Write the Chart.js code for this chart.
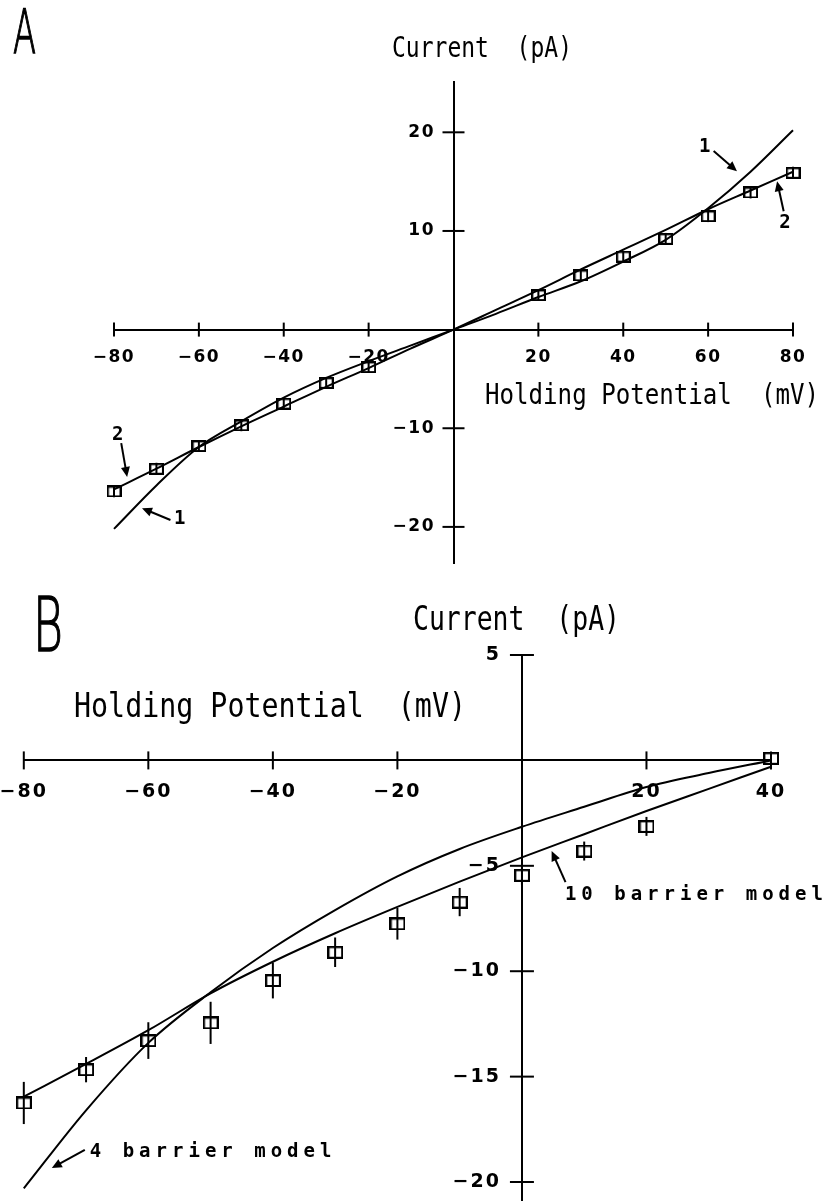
<!DOCTYPE html>
<html><head><meta charset="utf-8">
<script src="https://cdn.jsdelivr.net/npm/chart.js@4.4.1/dist/chart.umd.min.js"></script>
<style>
html,body{margin:0;padding:0;background:#fff;}
#wrap{position:relative;width:831px;height:1201px;overflow:hidden;background:#fff;}
canvas{position:absolute;left:0;top:0;}
</style></head><body>
<div id="wrap"><canvas id="ca" width="831" height="1201"></canvas><canvas id="cb" width="831" height="1201"></canvas></div>
<script>
// ---------- Panel A data ----------
const voltageA = [-80, -70, -60, -50, -40, -30, -20, 20, 30, 40, 50, 60, 70, 80];
const currentA = [-16.4, -14.1, -11.8, -9.7, -7.5, -5.4, -3.8, 3.5, 5.5, 7.4, 9.2, 11.5, 13.9, 15.9];
const errorA = [0.6, 0.6, 0.6, 0.6, 0.6, 0.6, 0.6, 0.6, 0.6, 0.6, 0.6, 0.6, 0.6, 0.6];
const modelVoltageA = [-80, -70, -60, -50, -40, -30, -20, -10, 0, 10, 20, 30, 40, 50, 60, 70, 80];
const model1A = [-20.2, -15.8, -11.9, -9.3, -6.9, -4.9, -3.2, -1.6, 0, 1.6, 3.3, 4.9, 6.9, 9.1, 12.3, 16.0, 20.2];
const model2A = [-16.2, -14.1, -11.9, -9.8, -7.8, -5.8, -3.9, -1.9, 0, 2.0, 4.0, 6.1, 8.1, 10.1, 12.2, 14.1, 16.0];
const xTicksA = [-80, -60, -40, -20, 20, 40, 60, 80];
const yTicksA = [-20, -10, 10, 20];

// ---------- Panel B data ----------
const voltageB = [-80, -70, -60, -50, -40, -30, -20, -10, 0, 10, 20, 40];
const currentB = [-16.25, -14.67, -13.29, -12.45, -10.44, -9.1, -7.75, -6.72, -5.45, -4.3, -3.13, 0.1];
const errorB = [1.0, 0.6, 0.87, 1.0, 0.85, 0.7, 0.75, 0.67, 0.45, 0.45, 0.45, 0.2];
const modelVoltageB = [-80, -70, -60, -50, -40, -30, -20, -10, 0, 10, 20, 30, 40];
const barrier4B = [-20.3, -16.6, -13.4, -11.0, -8.9, -7.1, -5.5, -4.2, -3.15, -2.2, -1.26, -0.6, 0.0];
const barrier10B = [-15.95, -14.4, -12.8, -11.05, -9.55, -8.2, -6.95, -5.75, -4.6, -3.5, -2.4, -1.35, -0.3];
const xTicksB = [-80, -60, -40, -20, 20, 40];
const yTicksB = [-20, -15, -10, -5, 5];

// ---------- annotations (data coordinates) ----------
const notesA = [
  {text: '2', lx: -79.1, ly: -10.65, x1: -78.3, y1: -11.5, x2: -76.9, y2: -14.94},
  {text: '1', lx: -64.5, ly: -19.2, x1: -66.7, y1: -19.3, x2: -73.4, y2: -18.1},
  {text: '1', lx: 59.2, ly: 18.5, x1: 61.3, y1: 18.1, x2: 66.8, y2: 16.05},
  {text: '2', lx: 78.1, ly: 10.85, x1: 77.8, y1: 12.0, x2: 76.25, y2: 15.04}
];
const notesB = [
  {text: '10 barrier model', lx: 6.9, ly: -6.64, x1: 7.0, y1: -5.77, x2: 4.77, y2: -4.3},
  {text: '4 barrier model', lx: -69.4, ly: -18.79, x1: -70.2, y1: -18.47, x2: -75.5, y2: -19.34}
];

const MONO = "'DejaVu Sans Mono', 'Liberation Mono', monospace";
const SANS = "'DejaVu Sans', 'Liberation Sans', sans-serif";

function pts(xs, ys) { return xs.map((x, i) => ({x: x, y: ys[i]})); }

function boxMarker(w, h, lw) {
  const c = document.createElement('canvas');
  c.width = w + lw; c.height = h + lw;
  const g = c.getContext('2d');
  g.lineWidth = lw; g.strokeStyle = '#000';
  g.strokeRect(lw / 2, lw / 2, w, h);
  return c;
}

function drawArrow(ctx, x1, y1, x2, y2, head) {
  const a = Math.atan2(y2 - y1, x2 - x1);
  ctx.beginPath(); ctx.moveTo(x1, y1);
  ctx.lineTo(x2 - Math.cos(a) * head * 0.8, y2 - Math.sin(a) * head * 0.8); ctx.stroke();
  ctx.beginPath();
  ctx.moveTo(x2, y2);
  ctx.lineTo(x2 - head * Math.cos(a) + head * 0.45 * Math.sin(a), y2 - head * Math.sin(a) - head * 0.45 * Math.cos(a));
  ctx.lineTo(x2 - head * Math.cos(a) - head * 0.45 * Math.sin(a), y2 - head * Math.sin(a) + head * 0.45 * Math.cos(a));
  ctx.closePath(); ctx.fill();
}

function makeChart(id, cfg) {
  const spacingPlugin = {
    id: 'spacing',
    beforeDraw(chart) { chart.ctx.letterSpacing = cfg.tickSpacing; }
  };
  const decoPlugin = {
    id: 'deco',
    afterDraw(chart) {
      const ctx = chart.ctx, xs = chart.scales.x, ys = chart.scales.y;
      const x0 = xs.getPixelForValue(0), y0 = ys.getPixelForValue(0);
      ctx.save();
      ctx.letterSpacing = '0px';
      ctx.strokeStyle = '#000'; ctx.fillStyle = '#000'; ctx.lineWidth = 2; ctx.lineCap = 'butt';
      // cross tick marks
      cfg.xTicks.forEach(v => { const p = xs.getPixelForValue(v); ctx.beginPath(); ctx.moveTo(p, y0 - cfg.xTickLen); ctx.lineTo(p, y0 + cfg.xTickLen); ctx.stroke(); });
      cfg.yTicks.forEach(v => { const p = ys.getPixelForValue(v); ctx.beginPath(); ctx.moveTo(x0 - cfg.yTickLen, p); ctx.lineTo(x0 + cfg.yTickLen, p); ctx.stroke(); });
      // error bars
      cfg.vx.forEach((v, i) => {
        const px = xs.getPixelForValue(v);
        ctx.beginPath();
        ctx.moveTo(px, ys.getPixelForValue(cfg.vy[i] + cfg.err[i]));
        ctx.lineTo(px, ys.getPixelForValue(cfg.vy[i] - cfg.err[i]));
        ctx.stroke();
      });
      // annotations
      cfg.notes.forEach(n => {
        drawArrow(ctx, xs.getPixelForValue(n.x1), ys.getPixelForValue(n.y1), xs.getPixelForValue(n.x2), ys.getPixelForValue(n.y2), 10);
        ctx.save();
        ctx.font = cfg.noteFont; ctx.letterSpacing = cfg.noteSpacing;
        ctx.textAlign = cfg.noteAlign; ctx.textBaseline = cfg.noteBaseline;
        ctx.fillText(n.text, xs.getPixelForValue(n.lx), ys.getPixelForValue(n.ly));
        ctx.restore();
      });
      // titles
      cfg.titles.forEach(t => {
        ctx.save();
        ctx.font = t.font; ctx.textAlign = 'left'; ctx.textBaseline = 'alphabetic';
        ctx.fillText(t.text, t.x, t.y, t.w);
        if (t.stroke) { ctx.lineWidth = t.stroke; ctx.strokeText(t.text, t.x, t.y, t.w); }
        ctx.restore();
      });
      ctx.restore();
    }
  };
  const zeroFit = s => { if (s.isHorizontal()) s.height = 0; else s.width = 0; s.paddingLeft = 0; s.paddingRight = 0; s.paddingTop = 0; s.paddingBottom = 0; };
  return new Chart(document.getElementById(id), {
    type: 'scatter',
    data: {
      datasets: [
        {data: pts(cfg.mx, cfg.m1), showLine: true, borderColor: '#000', borderWidth: 2, pointRadius: 0, tension: 0.4, cubicInterpolationMode: 'monotone', clip: false},
        {data: pts(cfg.mx, cfg.m2), showLine: true, borderColor: '#000', borderWidth: 2, pointRadius: 0, tension: 0.4, cubicInterpolationMode: 'monotone', clip: false},
        {data: pts(cfg.vx, cfg.vy), showLine: false, pointStyle: boxMarker(cfg.boxW, cfg.boxH, 2.4), pointRadius: 8, borderColor: '#000', clip: false}
      ]
    },
    options: {
      responsive: false, animation: false, devicePixelRatio: 1,
      layout: {padding: cfg.padding, autoPadding: false},
      plugins: {legend: {display: false}, tooltip: {enabled: false}, title: {display: false}},
      scales: {
        x: {
          type: 'linear', min: cfg.xMin, max: cfg.xMax, position: {y: 0},
          afterBuildTicks: s => { s.ticks = cfg.xTicks.map(v => ({value: v})); },
          afterFit: zeroFit,
          grid: {display: false, drawTicks: false},
          border: {display: true, color: '#000', width: 2},
          ticks: {color: '#000', font: {family: SANS, size: cfg.tickSize, weight: 'bold'}, padding: cfg.xPad, maxRotation: 0, autoSkip: false, callback: v => String(v).replace('-', '\u2212')}
        },
        y: {
          type: 'linear', min: cfg.yMin, max: cfg.yMax, position: {x: 0},
          afterBuildTicks: s => { s.ticks = cfg.yTicks.map(v => ({value: v})); },
          afterFit: zeroFit,
          grid: {display: false, drawTicks: false},
          border: {display: true, color: '#000', width: 2},
          ticks: {color: '#000', font: {family: SANS, size: cfg.tickSize, weight: 'bold'}, padding: 0, autoSkip: false, callback: v => String(v).replace('-', '\u2212') + '\u2003'}
        }
      }
    },
    plugins: [spacingPlugin, decoPlugin]
  });
}

makeChart('ca', {
  mx: modelVoltageA, m1: model1A, m2: model2A, vx: voltageA, vy: currentA, err: errorA,
  xTicks: xTicksA, yTicks: yTicksA, xMin: -80, xMax: 80, yMin: -23.7, yMax: 25.1,
  padding: {left: 114, right: 38, top: 82, bottom: 637.6},
  boxW: 13, boxH: 10, tickSize: 17, tickSpacing: '1.5px', xPad: 18,
  xTickLen: 7, yTickLen: 11,
  notes: notesA, noteFont: 'bold 19px ' + MONO, noteSpacing: '0px', noteAlign: 'center', noteBaseline: 'middle',
  titles: [
    {text: 'A', font: '200 60px "DejaVu Sans"', x: 13, y: 53, w: 23, stroke: 1.4},
    {text: 'Current  (pA)', font: '29px ' + MONO, x: 392, y: 57, w: 180},
    {text: 'Holding Potential  (mV)', font: '29px ' + MONO, x: 485, y: 404, w: 334}
  ]
});

makeChart('cb', {
  mx: modelVoltageB, m1: barrier4B, m2: barrier10B, vx: voltageB, vy: currentB, err: errorB,
  xTicks: xTicksB, yTicks: yTicksB, xMin: -80, xMax: 40, yMin: -20.9, yMax: 5,
  padding: {left: 23.8, right: 60, top: 655, bottom: 0},
  boxW: 14, boxH: 11, tickSize: 19, tickSpacing: '2px', xPad: 20,
  xTickLen: 9, yTickLen: 12,
  notes: notesB, noteFont: 'bold 19px ' + MONO, noteSpacing: '5px', noteAlign: 'left', noteBaseline: 'alphabetic',
  titles: [
    {text: 'B', font: '200 74px "DejaVu Sans"', x: 33, y: 651, w: 30, stroke: 1.4},
    {text: 'Current  (pA)', font: '34px ' + MONO, x: 413, y: 630, w: 207},
    {text: 'Holding Potential  (mV)', font: '34px ' + MONO, x: 74, y: 717, w: 392}
  ]
});
</script>
</body></html>
